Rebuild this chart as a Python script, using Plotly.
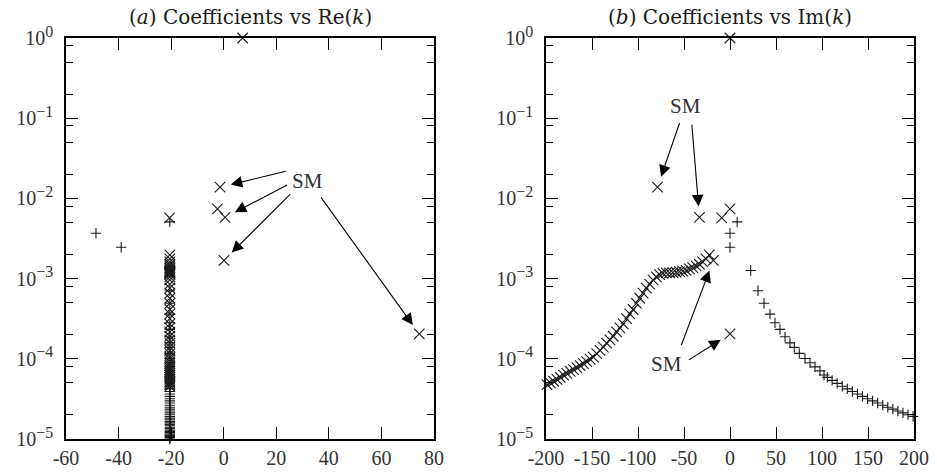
import numpy as np
import plotly.graph_objects as go

# ---------------- data ----------------
# isolated "x" modes: Re(k), Im(k), coefficient
xmode_re = [7.2, -1.4, -2.4, 0.5, -20.6, 0.1, 74.4]
xmode_im = [0.0, -78.8, 0.0, -33.2, -9.0, -18.1, 0.0]
xmode_coef = [1.0, 1.38e-2, 7.4e-3, 5.8e-3, 5.7e-3, 1.69e-3, 2.04e-4]

# isolated "+" modes
pmode_re = [-48.6, -39.0, -20.5]
pmode_im = [0.0, 0.0, 7.8]
pmode_coef = [3.68e-3, 2.46e-3, 5.09e-3]

# branch of "x" modes on the Re(k) = -20.5 line (Im(k) < 0)
CURVE_RE = -20.5
xcurve_im = [-22.5, -26.1, -29.7, -33.3, -36.9, -40.5, -44.1, -47.7, -51.3, -54.9,
             -58.5, -62.1, -65.7, -69.3, -72.9, -76.5, -80.1, -83.7, -87.3, -90.9,
             -94.5, -98.1, -101.7, -105.3, -108.9, -112.5, -116.1, -119.7, -123.3, -126.9,
             -130.5, -134.1, -137.7, -141.3, -144.9, -148.5, -152.1, -155.7, -159.3, -162.9,
             -166.5, -170.1, -173.7, -177.3, -180.9, -184.5, -188.1, -191.7, -195.3, -198.9,
             -202.5]
xcurve_coef = [1.97e-3, 1.76e-3, 1.62e-3, 1.51e-3, 1.44e-3, 1.37e-3, 1.32e-3, 1.27e-3, 1.24e-3, 1.22e-3,
               1.20e-3, 1.19e-3, 1.18e-3, 1.175e-3, 1.16e-3, 1.12e-3, 1.05e-3, 9.66e-4, 8.51e-4, 7.59e-4,
               6.61e-4, 5.69e-4, 4.90e-4, 4.12e-4, 3.63e-4, 3.16e-4, 2.72e-4, 2.43e-4, 2.16e-4, 1.91e-4,
               1.72e-4, 1.57e-4, 1.40e-4, 1.27e-4, 1.16e-4, 1.05e-4, 9.89e-5, 9.23e-5, 8.71e-5, 8.20e-5,
               7.76e-5, 7.33e-5, 6.95e-5, 6.56e-5, 6.24e-5, 5.89e-5, 5.53e-5, 5.25e-5, 5.01e-5, 4.76e-5,
               4.52e-5]

# branch of "+" modes on the Re(k) = -20.5 line (Im(k) > 0)
pcurve_im = [22.5, 30.4, 37.0, 43.5, 48.9, 54.3, 59.8, 65.2, 69.9, 75.3,
             81.5, 87.0, 92.4, 97.8, 102.2, 105.8, 111.0, 116.5, 122.0, 127.5,
             133.0, 138.5, 144.0, 149.5, 155.0, 160.5, 166.0, 171.5, 177.0, 182.5,
             188.0, 193.5, 199.0, 204.5, 210.0, 215.5, 221.0, 226.5, 232.0, 237.5,
             243.0, 248.5, 254.0, 259.5, 265.0, 270.5, 276.0, 281.5, 287.0]
pcurve_coef = [1.26e-3, 7.06e-4, 4.92e-4, 3.61e-4, 2.81e-4, 2.33e-4, 1.88e-4, 1.58e-4, 1.39e-4, 1.17e-4,
               1.01e-4, 8.91e-5, 7.94e-5, 7.08e-5, 6.27e-5, 5.86e-5, 5.38e-5, 4.94e-5, 4.55e-5, 4.22e-5,
               3.91e-5, 3.64e-5, 3.40e-5, 3.18e-5, 2.99e-5, 2.81e-5, 2.64e-5, 2.49e-5, 2.36e-5, 2.23e-5,
               2.12e-5, 2.01e-5, 1.91e-5, 1.82e-5, 1.74e-5, 1.66e-5, 1.59e-5, 1.52e-5, 1.46e-5, 1.40e-5,
               1.35e-5, 1.29e-5, 1.24e-5, 1.20e-5, 1.15e-5, 1.11e-5, 1.07e-5, 1.04e-5, 1.00e-5]

x_ticks_a = [-60, -40, -20, 0, 20, 40, 60, 80]
x_ticks_b = [-200, -150, -100, -50, 0, 50, 100, 150, 200]
y_exps = [0, -1, -2, -3, -4, -5]

titles = ["(<i>a</i>) Coefficients vs Re(<i>k</i>)", "(<i>b</i>) Coefficients vs Im(<i>k</i>)"]

# ---------------- assemble ----------------
x_re = xmode_re + [CURVE_RE] * len(xcurve_im)
x_im = xmode_im + xcurve_im
x_c = xmode_coef + xcurve_coef
p_re = pmode_re + [CURVE_RE] * len(pcurve_im)
p_im = pmode_im + pcurve_im
p_c = pmode_coef + pcurve_coef

FONT = "Liberation Serif"
TFONT = "DejaVu Serif"
INK = "#1a1a1a"
YMIN = 0.97e-5


def keep(xs, cs, xlo, xhi):
    xo, co = [], []
    for a, c in zip(xs, cs):
        if xlo <= a <= xhi and c >= YMIN:
            xo.append(a)
            co.append(c)
    return xo, co


xmark = dict(symbol="x-thin", size=10.5, color=INK, line=dict(width=1.1, color=INK))
pmark = dict(symbol="cross-thin", size=7.4, color=INK, line=dict(width=1.1, color=INK))

fig = go.Figure()
for xs_x, xs_p, xa, ya, lo, hi in [(x_re, p_re, "x", "y", -61, 81), (x_im, p_im, "x2", "y2", -203, 203)]:
    a, c = keep(xs_x, x_c, lo, hi)
    fig.add_trace(go.Scatter(x=a, y=c, mode="markers", marker=xmark, xaxis=xa, yaxis=ya,
                             cliponaxis=False, showlegend=False, hoverinfo="skip"))
    a, c = keep(xs_p, p_c, lo, hi)
    fig.add_trace(go.Scatter(x=a, y=c, mode="markers", marker=pmark, xaxis=xa, yaxis=ya,
                             cliponaxis=False, showlegend=False, hoverinfo="skip"))

yvals = [10.0 ** e for e in y_exps]
ytext = ["10<sup><span style='font-size:16px'>%s</span></sup>" % (str(e).replace("-", "\u2212"))
         for e in y_exps]
yminor = [m * 10.0 ** e for e in range(-5, 1) for m in (0.2, 0.5, 0.8)]

axis_common = dict(showline=True, linecolor="black", linewidth=1.5, mirror="ticks",
                   ticks="inside", ticklen=12, tickwidth=1.1, tickcolor="black",
                   showgrid=False, zeroline=False, automargin=False,
                   tickfont=dict(family=FONT, size=20, color="#333"))

def yaxis(anchor):
    d = dict(axis_common)
    d.update(type="log", range=[-5, 0], anchor=anchor, tickmode="array",
             tickvals=yvals, ticktext=ytext,
             minor=dict(tickmode="array", tickvals=yminor, ticks="inside", ticklen=7,
                        tickwidth=1.1, tickcolor="black", showgrid=False),
             ticklabelstandoff=7)
    return d

def xaxis(anchor, rng, ticks, dom):
    d = dict(axis_common)
    d.update(range=rng, anchor=anchor, domain=dom, tickmode="array", tickvals=ticks,
             ticktext=[str(t) for t in ticks], ticklabelstandoff=0)
    return d

L, R, T, B = 66, 23, 38, 35
W, H = 937, 474
pw = W - L - R
dom_a = [0, (434 - L) / pw]
dom_b = [(546 - L) / pw, 1]

fig.update_layout(
    width=W, height=H, margin=dict(l=L, r=R, t=T, b=B, autoexpand=False),
    paper_bgcolor="white", plot_bgcolor="white",
    xaxis=xaxis("y", [-60, 80], x_ticks_a, dom_a),
    yaxis=yaxis("x"),
    xaxis2=xaxis("y2", [-200, 200], x_ticks_b, dom_b),
    yaxis2=yaxis("x2"),
)

# titles
for i, t in enumerate(titles):
    dom = dom_a if i == 0 else dom_b
    fig.add_annotation(text=t, xref="paper", yref="paper", x=(dom[0] + dom[1]) / 2,
                       xanchor="center", y=1.0, yshift=21, showarrow=False, yanchor="middle",
                       font=dict(family=TFONT, size=20, color=INK))

# "SM" labels (axis pair, x, log10 y)
sm_text = [("x", "y", 32.0, -1.779), ("x2", "y2", -48.4, -0.854), ("x2", "y2", -68.8, -4.066)]
for xr, yr, tx, ty in sm_text:
    fig.add_annotation(text="SM", xref=xr, yref=yr, x=tx, y=ty, showarrow=False,
                       font=dict(family=FONT, size=21, color="#333"))

# arrows: (axis pair, target x, target coef, tail x, tail log10 y)
arrows = [
    ("x", "y", -1.4, 1.38e-2, 24.2, -1.657),
    ("x", "y", 0.5, 5.8e-3, 24.7, -1.823),
    ("x", "y", 0.1, 1.69e-3, 25.9, -1.928),
    ("x", "y", 74.4, 2.04e-4, 36.6, -1.969),
    ("x2", "y2", -78.8, 1.38e-2, -54.3, -1.041),
    ("x2", "y2", -33.2, 5.8e-3, -41.6, -1.061),
    ("x2", "y2", -18.1, 1.69e-3, -53.6, -3.850),
    ("x2", "y2", 0.0, 2.04e-4, -46.4, -4.025),
]
for xr, yr, tx, tc, axv, ayv in arrows:
    fig.add_annotation(text="", xref=xr, yref=yr, x=tx, y=float(np.log10(tc)),
                       axref=xr, ayref=yr, ax=axv, ay=ayv, showarrow=True,
                       arrowhead=2, arrowsize=2.1, arrowwidth=1.1, arrowcolor="black",
                       standoff=11)

fig.write_html("out.html")
